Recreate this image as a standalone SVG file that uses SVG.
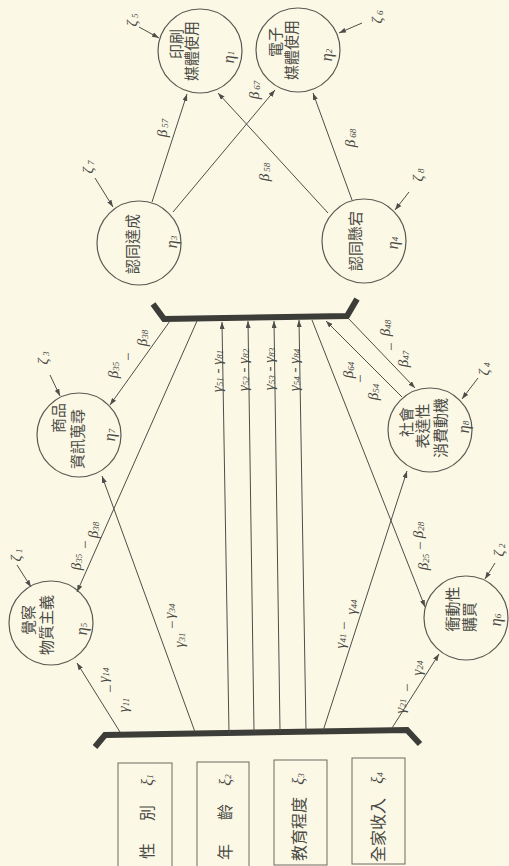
<svg xmlns="http://www.w3.org/2000/svg" width="509" height="866" viewBox="0 0 509 866">
<style>
.bg{fill:#fbf8e6}
.c{fill:none;stroke:#5a5a52;stroke-width:1.2}
.bx{fill:none;stroke:#6a6a62;stroke-width:1}
.ln{fill:none;stroke:#4e4e48;stroke-width:1}
.bar{fill:none;stroke:#3c3c38;stroke-width:6;stroke-linejoin:miter}
.cj{font-family:"Noto Sans CJK TC","Noto Sans CJK SC",sans-serif;font-size:15px;fill:#4a4a44;text-anchor:middle;dominant-baseline:central}
.cb{font-family:"Noto Sans CJK TC","Noto Sans CJK SC",sans-serif;font-size:16px;fill:#4a4a44;text-anchor:middle;dominant-baseline:central}
.gk{font-family:"Liberation Serif",serif;font-style:italic;font-size:15px;fill:#4a4a44;text-anchor:middle;dominant-baseline:central}
.et{font-family:"Liberation Serif",serif;font-style:italic;font-size:16px;fill:#4a4a44;text-anchor:middle;dominant-baseline:central}
.s{font-size:9px}
</style>
<defs>
<marker id="ah" viewBox="0 0 7 5" refX="7" refY="2.5" markerWidth="7" markerHeight="5" markerUnits="userSpaceOnUse" orient="auto">
<path d="M0,0 L7,2.5 L0,5 z" fill="#4e4e48"/>
</marker>
</defs>
<rect class="bg" x="0" y="0" width="509" height="866"/>

<g id="connectors">
<polyline class="bar" points="153,304 164,319 347,316 357,299"/>
<polyline class="bar" points="95,747 105,735 407,730 420,744"/>
<line class="ln" x1="120" y1="732" x2="77" y2="663" marker-end="url(#ah)"/>
<line class="ln" x1="195" y1="732" x2="102" y2="476" marker-end="url(#ah)"/>
<line class="ln" x1="323" y1="731" x2="407" y2="471" marker-end="url(#ah)"/>
<line class="ln" x1="392" y1="728" x2="439" y2="654" marker-end="url(#ah)"/>
<line class="ln" x1="229" y1="733" x2="222" y2="322" marker-end="url(#ah)"/>
<line class="ln" x1="254" y1="732" x2="248" y2="321" marker-end="url(#ah)"/>
<line class="ln" x1="280" y1="731" x2="274" y2="321" marker-end="url(#ah)"/>
<line class="ln" x1="306" y1="731" x2="299" y2="320" marker-end="url(#ah)"/>
<line class="ln" x1="170" y1="321" x2="110" y2="405" marker-end="url(#ah)"/>
<line class="ln" x1="197" y1="321" x2="77" y2="592" marker-end="url(#ah)"/>
<line class="ln" x1="312" y1="320" x2="425" y2="607" marker-end="url(#ah)"/>
<line class="ln" x1="402" y1="397" x2="326" y2="321" marker-end="url(#ah)"/>
<line class="ln" x1="348" y1="318" x2="415" y2="388" marker-end="url(#ah)"/>
<line class="ln" x1="152" y1="202" x2="187" y2="94" marker-end="url(#ah)"/>
<line class="ln" x1="173" y1="212" x2="275" y2="90" marker-end="url(#ah)"/>
<line class="ln" x1="328" y1="213" x2="218" y2="93" marker-end="url(#ah)"/>
<line class="ln" x1="352" y1="200" x2="313" y2="93" marker-end="url(#ah)"/>
<line class="ln" x1="139" y1="27" x2="159" y2="38" marker-end="url(#ah)"/>
<line class="ln" x1="362" y1="23" x2="339" y2="33" marker-end="url(#ah)"/>
<line class="ln" x1="95" y1="178" x2="113" y2="207" marker-end="url(#ah)"/>
<line class="ln" x1="409" y1="192" x2="395" y2="210" marker-end="url(#ah)"/>
<line class="ln" x1="50" y1="375" x2="60" y2="396" marker-end="url(#ah)"/>
<line class="ln" x1="478" y1="378" x2="462" y2="399" marker-end="url(#ah)"/>
<line class="ln" x1="17" y1="565" x2="31" y2="587" marker-end="url(#ah)"/>
<line class="ln" x1="495" y1="563" x2="485" y2="579" marker-end="url(#ah)"/>
</g>

<g id="connector-labels">
<text class="gk" transform="translate(162,128) rotate(-90)">β<tspan class="s" dy="3"> 57</tspan></text>
<text class="gk" transform="translate(254,90) rotate(-90)">β<tspan class="s" dy="3"> 67</tspan></text>
<text class="gk" transform="translate(264,172) rotate(-90)">β<tspan class="s" dy="3"> 58</tspan></text>
<text class="gk" transform="translate(350,138) rotate(-90)">β<tspan class="s" dy="3"> 68</tspan></text>

<text class="gk" transform="translate(113,370) rotate(-90)">β<tspan class="s" dy="3">35</tspan></text>
<text class="gk" transform="translate(128,357) rotate(-90)">−</text>
<text class="gk" transform="translate(142,338) rotate(-90)">β<tspan class="s" dy="3">38</tspan></text>

<text class="gk" transform="translate(76,562) rotate(-90)">β<tspan class="s" dy="3">35</tspan></text>
<text class="gk" transform="translate(85,545) rotate(-90)">−</text>
<text class="gk" transform="translate(93,530) rotate(-90)">β<tspan class="s" dy="3">38</tspan></text>

<text class="gk" transform="translate(423,562) rotate(-90)">β<tspan class="s" dy="3">25</tspan></text>
<text class="gk" transform="translate(420,546) rotate(-90)">−</text>
<text class="gk" transform="translate(418,530) rotate(-90)">β<tspan class="s" dy="3">28</tspan></text>

<text class="gk" transform="translate(348,370) rotate(-90)">β<tspan class="s" dy="3">64</tspan></text>
<text class="gk" transform="translate(360,379) rotate(-90)">−</text>
<text class="gk" transform="translate(373,392) rotate(-90)">β<tspan class="s" dy="3">54</tspan></text>

<text class="gk" transform="translate(385,328) rotate(-90)">β<tspan class="s" dy="3">48</tspan></text>
<text class="gk" transform="translate(391,347) rotate(-90)">−</text>
<text class="gk" transform="translate(403,359) rotate(-90)">β<tspan class="s" dy="3">47</tspan></text>

<text class="gk" transform="translate(217,371) rotate(-90)">γ<tspan class="s" dy="3">51</tspan><tspan dy="-3"> - γ</tspan><tspan class="s" dy="3">81</tspan></text>
<text class="gk" transform="translate(243,370) rotate(-90)">γ<tspan class="s" dy="3">52</tspan><tspan dy="-3"> - γ</tspan><tspan class="s" dy="3">82</tspan></text>
<text class="gk" transform="translate(269,369) rotate(-90)">γ<tspan class="s" dy="3">53</tspan><tspan dy="-3"> - γ</tspan><tspan class="s" dy="3">83</tspan></text>
<text class="gk" transform="translate(294,370) rotate(-90)">γ<tspan class="s" dy="3">54</tspan><tspan dy="-3"> - γ</tspan><tspan class="s" dy="3">84</tspan></text>

<text class="gk" transform="translate(123,705) rotate(-90)">γ<tspan class="s" dy="3">11</tspan></text>
<text class="gk" transform="translate(110,689) rotate(-90)">−</text>
<text class="gk" transform="translate(103,675) rotate(-90)">γ<tspan class="s" dy="3">14</tspan></text>

<text class="gk" transform="translate(179,640) rotate(-90)">γ<tspan class="s" dy="3">31</tspan></text>
<text class="gk" transform="translate(172,625) rotate(-90)">−</text>
<text class="gk" transform="translate(169,611) rotate(-90)">γ<tspan class="s" dy="3">34</tspan></text>

<text class="gk" transform="translate(340,641) rotate(-90)">γ<tspan class="s" dy="3">41</tspan></text>
<text class="gk" transform="translate(344,626) rotate(-90)">−</text>
<text class="gk" transform="translate(351,607) rotate(-90)">γ<tspan class="s" dy="3">44</tspan></text>

<text class="gk" transform="translate(400,706) rotate(-90)">γ<tspan class="s" dy="3">21</tspan></text>
<text class="gk" transform="translate(407,688) rotate(-90)">−</text>
<text class="gk" transform="translate(417,668) rotate(-90)">γ<tspan class="s" dy="3">24</tspan></text>

<text class="gk" transform="translate(132,20) rotate(-90)">ζ<tspan class="s" dy="3"> 5</tspan></text>
<text class="gk" transform="translate(377,17) rotate(-90)">ζ<tspan class="s" dy="3"> 6</tspan></text>
<text class="gk" transform="translate(88,167) rotate(-90)">ζ<tspan class="s" dy="3"> 7</tspan></text>
<text class="gk" transform="translate(418,175) rotate(-90)">ζ<tspan class="s" dy="3"> 8</tspan></text>
<text class="gk" transform="translate(43,358) rotate(-90)">ζ<tspan class="s" dy="3"> 3</tspan></text>
<text class="gk" transform="translate(484,369) rotate(-90)">ζ<tspan class="s" dy="3"> 4</tspan></text>
<text class="gk" transform="translate(16,555) rotate(-90)">ζ<tspan class="s" dy="3"> 1</tspan></text>
<text class="gk" transform="translate(499,550) rotate(-90)">ζ<tspan class="s" dy="3"> 2</tspan></text>
</g>

<g id="eta1">
<circle class="c" cx="200" cy="51" r="42"/>
<text class="cj" transform="translate(175,44) rotate(-90)">印刷</text>
<text class="cj" transform="translate(190,51) rotate(-90)">媒體使用</text>
<text class="et" transform="translate(228,57) rotate(-90)">η<tspan class="s" dy="3">1</tspan></text>
</g>
<g id="eta2">
<circle class="c" cx="298" cy="50" r="42"/>
<text class="cj" transform="translate(274,42) rotate(-90)">電子</text>
<text class="cj" transform="translate(290,50) rotate(-90)">媒體使用</text>
<text class="et" transform="translate(326,55) rotate(-90)">η<tspan class="s" dy="3">2</tspan></text>
</g>
<g id="eta3">
<circle class="c" cx="139" cy="243" r="42"/>
<text class="cj" transform="translate(131,244) rotate(-90)">認同達成</text>
<text class="et" transform="translate(171,242) rotate(-90)">η<tspan class="s" dy="3">3</tspan></text>
</g>
<g id="eta4">
<circle class="c" cx="364" cy="241" r="42"/>
<text class="cj" transform="translate(354,241) rotate(-90)">認同懸宕</text>
<text class="et" transform="translate(392,243) rotate(-90)">η<tspan class="s" dy="3">4</tspan></text>
</g>
<g id="eta7">
<circle class="c" cx="79" cy="435" r="42"/>
<text class="cj" transform="translate(57,418) rotate(-90)">商品</text>
<text class="cj" transform="translate(76,439) rotate(-90)">資訊蒐尋</text>
<text class="et" transform="translate(109,435) rotate(-90)">η<tspan class="s" dy="3">7</tspan></text>
</g>
<g id="eta8">
<circle class="c" cx="430" cy="430" r="42"/>
<text class="cj" transform="translate(405,422) rotate(-90)">社會</text>
<text class="cj" transform="translate(421,426) rotate(-90)">表達性</text>
<text class="cj" transform="translate(439,428) rotate(-90)">消費動機</text>
<text class="et" transform="translate(463,427) rotate(-90)">η<tspan class="s" dy="3">8</tspan></text>
</g>
<g id="eta5">
<circle class="c" cx="51" cy="623" r="42"/>
<text class="cj" transform="translate(27,620) rotate(-90)">覺察</text>
<text class="cj" transform="translate(45,625) rotate(-90)">物質主義</text>
<text class="et" transform="translate(81,629) rotate(-90)">η<tspan class="s" dy="3">5</tspan></text>
</g>
<g id="eta6">
<circle class="c" cx="466" cy="618" r="42"/>
<text class="cj" transform="translate(451,609) rotate(-90)">衝動性</text>
<text class="cj" transform="translate(468,617) rotate(-90)">購買</text>
<text class="et" transform="translate(495,620) rotate(-90)">η<tspan class="s" dy="3">6</tspan></text>
</g>

<g id="xi1">
<rect class="bx" x="118" y="763" width="54" height="110"/>
<text class="cb" transform="translate(146,851) rotate(-90)">性</text>
<text class="cb" transform="translate(146,813) rotate(-90)">別</text>
<text class="et" transform="translate(147,780) rotate(-90)">ξ<tspan class="s" dy="3">1</tspan></text>
</g>
<g id="xi2">
<rect class="bx" x="197" y="762" width="52" height="110"/>
<text class="cb" transform="translate(224,852) rotate(-90)">年</text>
<text class="cb" transform="translate(224,812) rotate(-90)">齡</text>
<text class="et" transform="translate(225,780) rotate(-90)">ξ<tspan class="s" dy="3">2</tspan></text>
</g>
<g id="xi3">
<rect class="bx" x="274" y="760" width="53" height="105"/>
<text class="cb" transform="translate(298,829) rotate(-90)">教育程度</text>
<text class="et" transform="translate(298,779) rotate(-90)">ξ<tspan class="s" dy="3">3</tspan></text>
</g>
<g id="xi4">
<rect class="bx" x="352" y="758" width="53" height="106"/>
<text class="cb" transform="translate(377,830) rotate(-90)">全家收入</text>
<text class="et" transform="translate(377,778) rotate(-90)">ξ<tspan class="s" dy="3">4</tspan></text>
</g>
</svg>
